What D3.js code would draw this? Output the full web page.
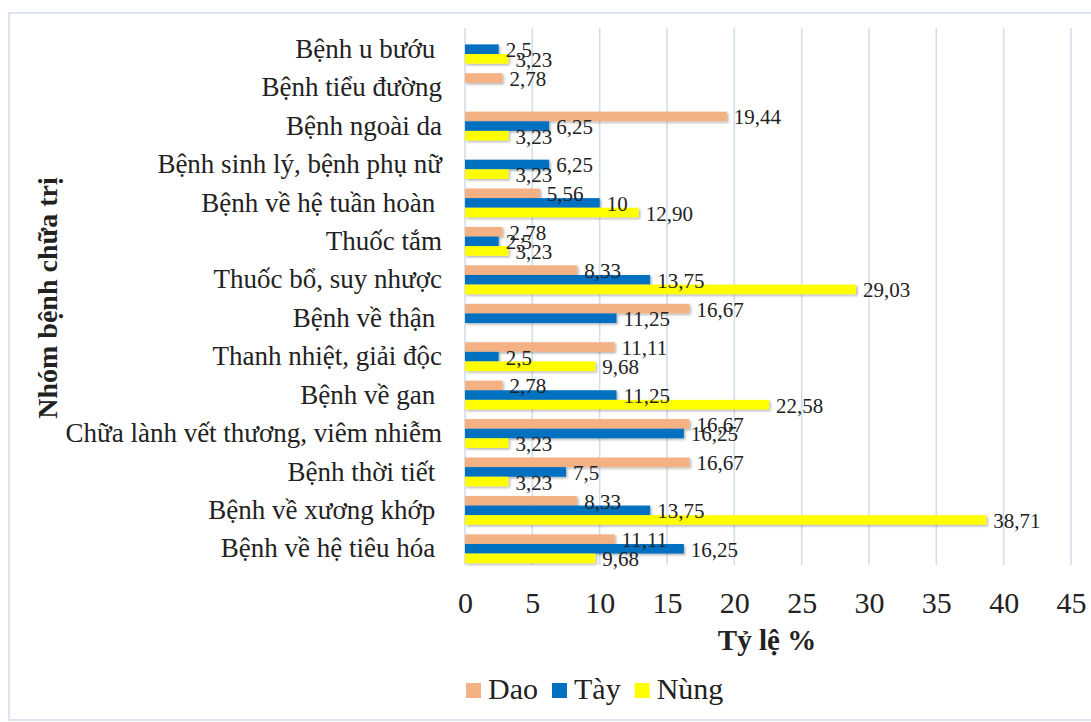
<!DOCTYPE html>
<html>
<head>
<meta charset="utf-8">
<script src="https://cdn.jsdelivr.net/npm/d3@7"></script>
<style>
  body { margin: 0; background: #fff; }
  text { font-family: "Liberation Serif", "Times New Roman", serif; fill: #222; }
</style>
</head>
<body>
<svg id="chart"></svg>
<script>
// categories top to bottom (trailing spaces kept as in the source chart)
var categories = [
    "Bệnh u bướu ",
    "Bệnh tiểu đường",
    "Bệnh ngoài da",
    "Bệnh sinh lý, bệnh phụ nữ",
    "Bệnh về hệ tuần hoàn ",
    "Thuốc tắm",
    "Thuốc bổ, suy nhược",
    "Bệnh về thận ",
    "Thanh nhiệt, giải độc",
    "Bệnh về gan ",
    "Chữa lành vết thương, viêm nhiễm",
    "Bệnh thời tiết ",
    "Bệnh về xương khớp ",
    "Bệnh về hệ tiêu hóa "
]
var dao  = [0, 2.78, 19.44, 0, 5.56, 2.78, 8.33, 16.67, 11.11, 2.78, 16.67, 16.67, 8.33, 11.11]
var tay  = [2.5, 0, 6.25, 6.25, 10, 2.5, 13.75, 11.25, 2.5, 11.25, 16.25, 7.5, 13.75, 16.25]
var nung = [3.23, 0, 3.23, 3.23, 12.90, 3.23, 29.03, 0, 9.68, 22.58, 3.23, 3.23, 38.71, 9.68]

var seriesNames = ["Dao", "Tày", "Nùng"]
var seriesColors = ["#F4B183", "#0070C0", "#FFFF00"]
var xTicks = [0, 5, 10, 15, 20, 25, 30, 35, 40, 45]

var width = 1091
var height = 722
var serif = "'Liberation Serif', 'Times New Roman', serif"

var svg = d3.select("#chart")
    .attr("width", width)
    .attr("height", height)

var defs = svg.append("defs")
defs.append("filter")
    .attr("id", "shadow")
    .attr("x", "-10%").attr("y", "-30%")
    .attr("width", "130%").attr("height", "180%")
    .append("feDropShadow")
    .attr("dx", 1.5).attr("dy", 1.5)
    .attr("stdDeviation", 1)
    .attr("flood-color", "#000")
    .attr("flood-opacity", 0.3)

// outer chart border
svg.append("rect")
    .attr("x", 9).attr("y", 13)
    .attr("width", 1100).attr("height", 707)
    .attr("fill", "#fff")
    .attr("stroke", "#DCE4F2")
    .attr("stroke-width", 2)

var plot = {left: 465, right: 1071, top: 30, bottom: 568}

var xScale = d3.scaleLinear()
    .domain([0, 45])
    .range([plot.left, plot.right])

var yScale = d3.scaleBand()
    .domain(categories)
    .range([plot.top, plot.bottom])
    .paddingInner(0.25)
    .paddingOuter(0.125)

var ySub = d3.scaleBand()
    .domain(seriesNames)
    .range([0, yScale.bandwidth()])

// gridlines
svg.append("g")
    .selectAll("line")
    .data(xTicks)
    .enter()
    .append("line")
    .attr("x1", function(d){ return xScale(d) })
    .attr("x2", function(d){ return xScale(d) })
    .attr("y1", plot.top - 2)
    .attr("y2", plot.bottom - 3)
    .attr("stroke", "#D3DEEC")
    .attr("stroke-width", 1.6)

// x tick labels via axis
var xAxis = d3.axisBottom(xScale)
    .tickValues(xTicks)
    .tickSize(0)
    .tickPadding(0)

var axG = svg.append("g")
    .attr("transform", "translate(0,613)")
    .call(xAxis)
    .attr("font-family", serif)
    .attr("font-size", 30)
axG.select(".domain").remove()
axG.selectAll("text")
    .attr("dy", 0)
    .attr("y", 0)
    .attr("fill", "#222")

// category labels
var yAxis = d3.axisLeft(yScale)
    .tickSize(0)
    .tickPadding(0)
var ayG = svg.append("g")
    .attr("transform", "translate(442,0)")
    .call(yAxis)
    .attr("font-family", serif)
    .attr("font-size", 27)
ayG.select(".domain").remove()
ayG.selectAll("text")
    .style("white-space", "pre")
    .attr("fill", "#222")

// bars
var table = categories.map(function(c, i)
{
    return {cat: c, values: [dao[i], tay[i], nung[i]]}
})

var formats = [d3.format(".2f"), d3.format("~r"), d3.format(".2f")]
var fmt = function(v, s)
{
    return formats[s](v).replace(".", ",")
}

var groups = svg.append("g")
    .selectAll("g")
    .data(table)
    .enter()
    .append("g")
    .attr("transform", function(d){ return "translate(0," + yScale(d.cat) + ")" })

groups.selectAll("rect")
    .data(function(d){ return d.values.map(function(v, s){ return {v: v, s: s} }) })
    .enter()
    .filter(function(d){ return d.v > 0 })
    .append("rect")
    .attr("x", xScale(0))
    .attr("y", function(d){ return ySub(seriesNames[d.s]) })
    .attr("width", function(d){ return xScale(d.v) - xScale(0) })
    .attr("height", ySub.bandwidth())
    .attr("fill", function(d){ return seriesColors[d.s] })
    .attr("filter", "url(#shadow)")

groups.selectAll("text")
    .data(function(d){ return d.values.map(function(v, s){ return {v: v, s: s} }) })
    .enter()
    .filter(function(d){ return d.v > 0 })
    .append("text")
    .attr("x", function(d){ return xScale(d.v) + 7 })
    .attr("y", function(d){ return ySub(seriesNames[d.s]) + ySub.bandwidth() / 2 + 1 })
    .attr("dominant-baseline", "central")
    .style("font-size", "21px")
    .text(function(d){ return fmt(d.v, d.s) })

// axis titles
svg.append("text")
    .attr("x", 767)
    .attr("y", 650)
    .attr("text-anchor", "middle")
    .style("font-size", "29px")
    .style("font-weight", "bold")
    .text("Tỷ lệ %")

svg.append("text")
    .attr("transform", "translate(57,298) rotate(-90)")
    .attr("text-anchor", "middle")
    .style("font-size", "28px")
    .style("font-weight", "bold")
    .text("Nhóm bệnh chữa trị")

// legend
var legend = svg.append("g").attr("transform", "translate(466,0)")
var lx = 0
seriesNames.forEach(function(name, i)
{
    legend.append("rect")
        .attr("x", lx).attr("y", 683)
        .attr("width", 15).attr("height", 15)
        .attr("fill", seriesColors[i])
    var t = legend.append("text")
        .attr("x", lx + 22)
        .attr("y", 699)
        .style("font-size", "30px")
        .text(name)
    lx = lx + 22 + t.node().getComputedTextLength() + 14
})
</script>
</body>
</html>
